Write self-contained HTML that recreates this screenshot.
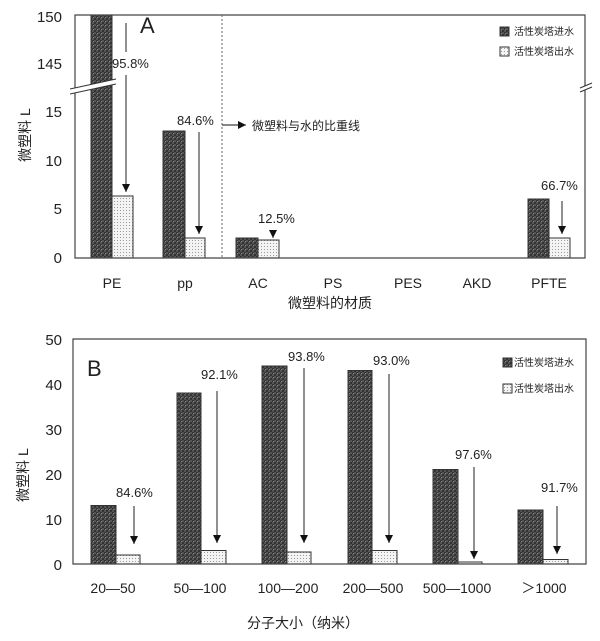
<!DOCTYPE html>
<html><head><meta charset="utf-8"><style>
body{margin:0;background:#fff}
text{font-family:"Liberation Sans","Noto Sans CJK SC",sans-serif;fill:#222}
</style></head><body>
<svg width="600" height="636" viewBox="0 0 600 636" xmlns="http://www.w3.org/2000/svg">
<defs>
<pattern id="dk" width="4" height="4" patternUnits="userSpaceOnUse">
<rect width="4" height="4" fill="#555"/><rect width="2" height="2" fill="#333"/><rect x="2" y="2" width="2" height="2" fill="#333"/><rect x="1" y="1" width="1" height="1" fill="#888"/></pattern>
<pattern id="lt" width="3" height="3" patternUnits="userSpaceOnUse">
<rect width="3" height="3" fill="#f4f4f4"/><rect width="1" height="1" fill="#999"/></pattern>
<marker id="ar" viewBox="0 0 10 10" refX="10" refY="5" markerWidth="8" markerHeight="8" orient="auto" markerUnits="userSpaceOnUse"><path d="M0,0L10,5L0,10z" fill="#111"/></marker>
</defs>
<!-- Chart A -->
<g stroke="#333" stroke-width="1">
<rect x="91" y="15" width="21" height="243" fill="url(#dk)"/>
<rect x="112" y="196" width="21" height="62" fill="url(#lt)"/>
<rect x="163" y="131" width="22" height="127" fill="url(#dk)"/>
<rect x="185" y="238" width="20" height="20" fill="url(#lt)"/>
<rect x="236" y="238" width="22" height="20" fill="url(#dk)"/>
<rect x="258" y="240" width="21" height="18" fill="url(#lt)"/>
<rect x="528" y="199" width="21" height="59" fill="url(#dk)"/>
<rect x="549" y="238" width="21" height="20" fill="url(#lt)"/>
</g>
<path d="M75,15H585V258H75Z" fill="none" stroke="#444" stroke-width="1.2"/>
<polygon points="70,89 116,79 116,84 70,94" fill="#fff"/>
<path d="M70,89L116,79M70,94L116,84" stroke="#333"/>
<polygon points="580,88 592,83 592,87 580,92" fill="#fff"/>
<path d="M580,88L592,83M580,92L592,87" stroke="#333"/>
<line x1="222" y1="15" x2="222" y2="258" stroke="#666" stroke-dasharray="2,2"/>
<line x1="222" y1="125" x2="246" y2="125" stroke="#111" marker-end="url(#ar)" />
<text x="252" y="130" font-size="12">微塑料与水的比重线</text>
<line x1="126" y1="23" x2="126" y2="52" stroke="#222"/>
<g stroke="#222" marker-end="url(#ar)">
<line x1="126" y1="75" x2="126" y2="192"/>
<line x1="199" y1="132" x2="199" y2="234"/>
<line x1="273" y1="230" x2="273" y2="238"/>
<line x1="562" y1="201" x2="562" y2="234"/>
</g>
<text x="112" y="68" font-size="13">95.8%</text>
<text x="177" y="125" font-size="13">84.6%</text>
<text x="258" y="223" font-size="13">12.5%</text>
<text x="541" y="190" font-size="13">66.7%</text>
<text x="140" y="33" font-size="22">A</text>
<g font-size="15" text-anchor="end">
<text x="62" y="22">150</text><text x="62" y="69">145</text><text x="62" y="117">15</text><text x="62" y="166">10</text><text x="62" y="214">5</text><text x="62" y="263">0</text></g>
<g font-size="14" text-anchor="middle">
<text x="112" y="288">PE</text><text x="185" y="288">pp</text><text x="258" y="288">AC</text><text x="333" y="288">PS</text><text x="408" y="288">PES</text><text x="477" y="288">AKD</text><text x="549" y="288">PFTE</text>
<text x="330" y="308">微塑料的材质</text></g>
<text transform="translate(30,135) rotate(-90)" font-size="14" text-anchor="middle">微塑料  L</text>
<rect x="500" y="27" width="9" height="9" fill="url(#dk)" stroke="#333"/>
<rect x="500" y="47" width="9" height="9" fill="url(#lt)" stroke="#333"/>
<text x="514" y="35" font-size="10">活性炭塔进水</text>
<text x="514" y="55" font-size="10">活性炭塔出水</text>

<!-- Chart B -->
<g stroke="#333" stroke-width="1">
<rect x="91" y="505.5" width="25" height="58.5" fill="url(#dk)"/><rect x="116" y="555" width="24" height="9" fill="url(#lt)"/>
<rect x="177" y="393" width="24" height="171" fill="url(#dk)"/><rect x="201" y="550.5" width="25" height="13.5" fill="url(#lt)"/>
<rect x="262" y="366" width="25" height="198" fill="url(#dk)"/><rect x="287" y="552" width="24" height="12" fill="url(#lt)"/>
<rect x="348" y="370.5" width="24" height="193.5" fill="url(#dk)"/><rect x="372" y="550.5" width="25" height="13.5" fill="url(#lt)"/>
<rect x="433" y="469.5" width="25" height="94.5" fill="url(#dk)"/><rect x="458" y="562" width="24" height="2" fill="url(#lt)"/>
<rect x="518" y="510" width="25" height="54" fill="url(#dk)"/><rect x="543" y="559.5" width="25" height="4.5" fill="url(#lt)"/>
</g>
<path d="M73,339H586V564H73Z" fill="none" stroke="#444" stroke-width="1.2"/>
<g stroke="#222" marker-end="url(#ar)">
<line x1="134" y1="506" x2="134" y2="544"/>
<line x1="217" y1="391" x2="217" y2="543"/>
<line x1="304" y1="368" x2="304" y2="543"/>
<line x1="389" y1="374" x2="389" y2="543"/>
<line x1="474" y1="467" x2="474" y2="559"/>
<line x1="557" y1="506" x2="557" y2="554"/>
</g>
<g font-size="13">
<text x="116" y="497">84.6%</text><text x="201" y="379">92.1%</text><text x="288" y="361">93.8%</text>
<text x="373" y="365">93.0%</text><text x="455" y="459">97.6%</text><text x="541" y="492">91.7%</text></g>
<text x="87" y="376" font-size="22">B</text>
<g font-size="15" text-anchor="end">
<text x="62" y="345">50</text><text x="62" y="390">40</text><text x="62" y="435">30</text><text x="62" y="480">20</text><text x="62" y="525">10</text><text x="62" y="570">0</text></g>
<g font-size="14" text-anchor="middle">
<text x="113" y="593">20—50</text><text x="200" y="593">50—100</text><text x="288" y="593">100—200</text><text x="373" y="593">200—500</text><text x="457" y="593">500—1000</text><text x="544" y="593">＞1000</text>
<text x="303" y="628">分子大小（纳米）</text></g>
<text transform="translate(28,475) rotate(-90)" font-size="14" text-anchor="middle">微塑料  L</text>
<rect x="503" y="358" width="9" height="9" fill="url(#dk)" stroke="#333"/>
<rect x="503" y="384" width="9" height="9" fill="url(#lt)" stroke="#333"/>
<text x="514" y="366" font-size="10">活性炭塔进水</text>
<text x="514" y="392" font-size="10">活性炭塔出水</text>
</svg>
</body></html>
